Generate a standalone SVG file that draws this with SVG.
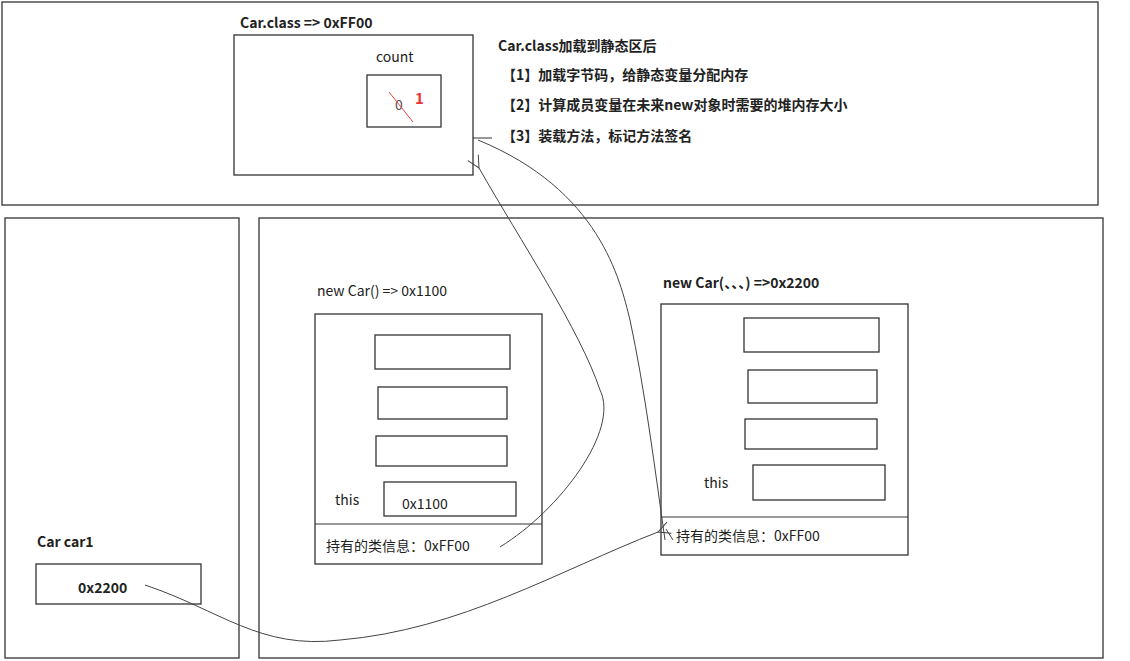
<svg xmlns="http://www.w3.org/2000/svg" width="1130" height="661" viewBox="0 0 1130 661">
<style>
.b{fill:none;stroke:#333;stroke-width:1.3}
.t{font-family:"Microsoft YaHei","Noto Sans CJK SC",sans-serif;font-size:14px;fill:#222}
.bd{font-weight:bold}
.c{fill:none;stroke:#444;stroke-width:1}
</style>
<defs><marker id="a" markerWidth="14" markerHeight="14" refX="1" refY="7" orient="auto" markerUnits="userSpaceOnUse"><path d="M13,1 L1,7 L13,13" fill="none" stroke="#444"/></marker></defs>
<rect width="1130" height="661" fill="#fff"/>
<g id="static"><rect class="b" x="2" y="2" width="1096" height="203"/></g>
<g id="stack"><rect class="b" x="5" y="218" width="234" height="440"/></g>
<g id="heap"><rect class="b" x="259" y="218" width="844" height="440"/></g>
<g id="carclass">
<text class="t bd" x="240" y="28">Car.class =&gt; 0xFF00</text>
<rect class="b" x="234" y="35" width="239" height="140"/>
<text class="t" x="376" y="62">count</text>
<rect class="b" x="367" y="75" width="74" height="52"/>
<text class="t" x="395" y="110" style="fill:#555">0</text>
<line x1="389" y1="92" x2="413" y2="122" stroke="#e44" stroke-width="1"/>
<text class="t bd" x="415" y="104" style="fill:#e33;font-size:15px">1</text>
<line x1="473" y1="138" x2="492" y2="138" stroke="#333"/>
</g>
<g id="notes">
<text class="t bd" x="498" y="51">Car.class加载到静态区后</text>
<text class="t bd" x="502" y="80">【1】加载字节码，给静态变量分配内存</text>
<text class="t bd" x="502" y="110">【2】计算成员变量在未来new对象时需要的堆内存大小</text>
<text class="t bd" x="502" y="141">【3】装载方法，标记方法签名</text>
</g>
<g id="obj1">
<text class="t" x="317" y="296">new Car() =&gt; 0x1100</text>
<rect class="b" x="315" y="314" width="227" height="250"/>
<rect class="b" x="375" y="335" width="135" height="34"/>
<rect class="b" x="378" y="387" width="129" height="32"/>
<rect class="b" x="376" y="436" width="131" height="30"/>
<text class="t" x="335" y="505">this</text>
<rect class="b" x="384" y="482" width="132" height="34"/>
<text class="t" x="402" y="509">0x1100</text>
<line x1="315" y1="524" x2="542" y2="524" stroke="#333"/>
<text class="t" x="326" y="551">持有的类信息：0xFF00</text>
</g>
<g id="obj2">
<text class="t bd" x="663" y="288">new Car(、、、) =&gt;0x2200</text>
<rect class="b" x="661" y="304" width="247" height="251"/>
<rect class="b" x="744" y="318" width="135" height="34"/>
<rect class="b" x="748" y="370" width="129" height="33"/>
<rect class="b" x="745" y="419" width="132" height="30"/>
<text class="t" x="704" y="488">this</text>
<rect class="b" x="753" y="465" width="132" height="35"/>
<line x1="661" y1="517" x2="908" y2="517" stroke="#333"/>
<text class="t" x="676" y="541">持有的类信息：0xFF00</text>
</g>
<g id="car1">
<text class="t bd" x="37" y="547">Car car1</text>
<rect class="b" x="36" y="564" width="165" height="40"/>
<text class="t bd" x="78" y="593">0x2200</text>
</g>
<g id="connectors">
<path class="c" d="M500,547 C560,510 620,430 600,390 C580,330 520,240 479,168" marker-end="url(#a)"/>
<path class="c" d="M478,140 C600,190 620,280 630,320 C645,390 655,470 665,540" />
<path class="c" d="M666,529 L673,540"/>
<path class="c" d="M145,585 C220,610 260,650 340,640 C460,630 560,570 658,532" marker-end="url(#a)"/>
</g>
</svg>
